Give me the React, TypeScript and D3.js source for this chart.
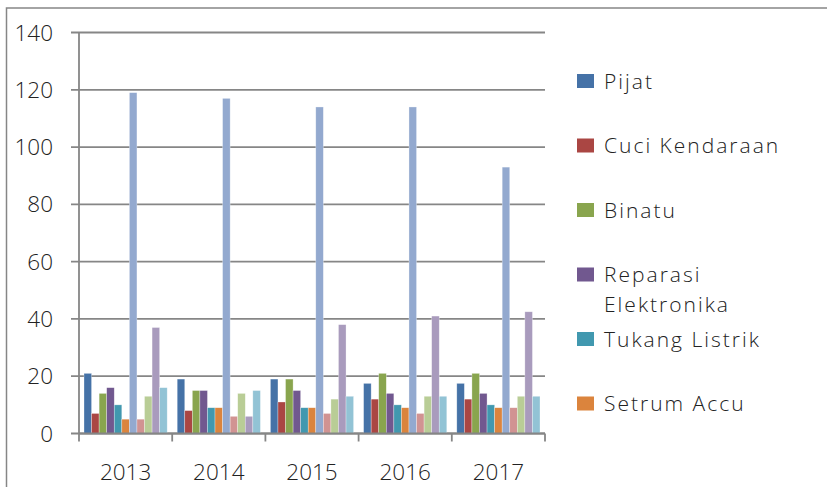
import React from "react";
import * as d3 from "d3";

const years = ["2013", "2014", "2015", "2016", "2017"];

// one array per series, values per year
const pijat = [21, 19, 19, 17.5, 17.5];
const cuciKendaraan = [7, 8, 11, 12, 12];
const binatu = [14, 15, 19, 21, 21];
const reparasiElektronika = [16, 15, 15, 14, 14];
const tukangListrik = [10, 9, 9, 10, 10];
const setrumAccu = [5, 9, 9, 9, 9];
const series7 = [119, 117, 114, 114, 93];
const series8 = [5, 6, 7, 7, 9];
const series9 = [13, 14, 12, 13, 13];
const series10 = [37, 6, 38, 41, 42.5];
const series11 = [16, 15, 13, 13, 13];

const seriesNames = [
  "Pijat",
  "Cuci Kendaraan",
  "Binatu",
  "Reparasi Elektronika",
  "Tukang Listrik",
  "Setrum Accu",
  "s7",
  "s8",
  "s9",
  "s10",
  "s11",
];
const seriesValues = [
  pijat,
  cuciKendaraan,
  binatu,
  reparasiElektronika,
  tukangListrik,
  setrumAccu,
  series7,
  series8,
  series9,
  series10,
  series11,
];
const colors = [
  "#4572A7",
  "#AA4643",
  "#89A54E",
  "#71588F",
  "#4198AF",
  "#DB843D",
  "#93A9CF",
  "#D19392",
  "#B9CD96",
  "#A99BBD",
  "#92C3D5",
];
const legendLines = [["Pijat"], ["Cuci Kendaraan"], ["Binatu"], ["Reparasi", "Elektronika"], ["Tukang Listrik"], ["Setrum Accu"]];
const yTicks = [0, 20, 40, 60, 80, 100, 120, 140];

const W = 827;
const H = 487;
const font = "'Open Sans', sans-serif";
const axisColor = "#868686";
const textColor = "#222";

export default function App() {
  const x = d3.scaleBand().domain(years).range([79, 545]);
  const y = d3.scaleLinear().domain([0, 140]).range([433.5, 32.5]);
  const inner = d3
    .scaleBand()
    .domain(seriesNames)
    .range([5, x.bandwidth() - 5]);

  return (
    <svg
      width={W}
      height={H}
      style={{ position: "absolute", left: 0, top: 0, background: "#fff" }}
    >
      <rect x={6.5} y={8} width={W + 10} height={H + 10} fill="#fff" stroke={axisColor} strokeWidth={1.5} />

      {yTicks.map(t => (
        <g key={t}>
          <line x1={71} x2={545} y1={y(t)} y2={y(t)} stroke={axisColor} strokeWidth={1.8} />
          <text
            x={53}
            y={y(t) + 8}
            textAnchor="end"
            fontFamily={font}
            fontSize={22.5}
            fontWeight={300}
            fill={textColor}
          >
            {t}
          </text>
        </g>
      ))}

      {seriesValues.map((vals, si) =>
        vals.map((v, yi) => (
          <rect
            key={`${si}-${yi}`}
            x={(x(years[yi]) as number) + (inner(seriesNames[si]) as number)}
            y={y(v)}
            width={inner.bandwidth()}
            height={y(0) - y(v)}
            fill={colors[si]}
            stroke="#fff"
            strokeOpacity={0.5}
            strokeWidth={0.6}
          />
        ))
      )}

      <line x1={79} x2={79} y1={y(140)} y2={y(0)} stroke={axisColor} strokeWidth={1.8} />
      <line x1={79} x2={545} y1={y(0)} y2={y(0)} stroke={axisColor} strokeWidth={1.8} />
      {years.concat(["end"]).map((yr, i) => {
        const px = 79 + i * x.step();
        return <line key={yr} x1={px} x2={px} y1={y(0)} y2={y(0) + 8} stroke={axisColor} strokeWidth={1.8} />;
      })}
      {years.map(yr => (
        <text
          key={yr}
          x={(x(yr) as number) + x.bandwidth() / 2}
          y={479.5}
          textAnchor="middle"
          fontFamily={font}
          fontSize={22.5}
          fontWeight={300}
          fill={textColor}
        >
          {yr}
        </text>
      ))}

      {legendLines.map((lines, i) => {
        const cy = 81 + i * 64.5;
        return (
          <g key={i}>
            <rect x={577} y={cy - 7} width={17} height={14} fill={colors[i]} />
            {lines.map((ln, j) => (
              <text
                key={j}
                x={604}
                y={cy + 7.5 + j * 29.5}
                fontFamily={font}
                fontSize={21}
                fontWeight={300}
                letterSpacing={2}
                fill={textColor}
              >
                {ln}
              </text>
            ))}
          </g>
        );
      })}
    </svg>
  );
}
